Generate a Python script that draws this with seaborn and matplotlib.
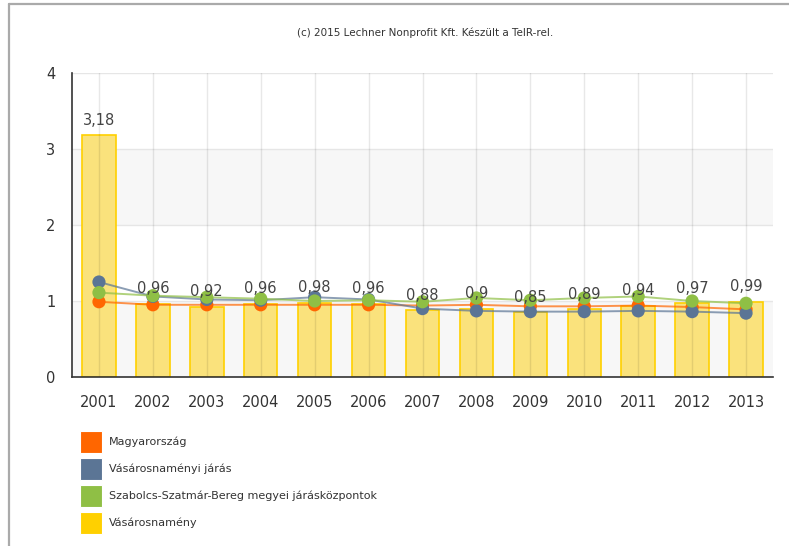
import numpy as np
import pandas as pd
import matplotlib
matplotlib.use("Agg")
import matplotlib.pyplot as plt
from matplotlib.patches import Rectangle
from matplotlib.lines import Line2D
import seaborn as sns

years = ["2001", "2002", "2003", "2004", "2005", "2006", "2007",
         "2008", "2009", "2010", "2011", "2012", "2013"]
vasarosnameny = [3.18, 0.96, 0.92, 0.96, 0.98, 0.96, 0.88, 0.90, 0.85, 0.89, 0.94, 0.97, 0.99]
magyarorszag = [0.99, 0.95, 0.95, 0.95, 0.95, 0.95, 0.94, 0.95, 0.93, 0.93, 0.94, 0.92, 0.89]
jaras = [1.25, 1.06, 1.02, 1.01, 1.05, 1.02, 0.90, 0.87, 0.86, 0.86, 0.87, 0.86, 0.84]
jaraskozpontok = [1.11, 1.07, 1.05, 1.03, 1.00, 1.01, 0.99, 1.04, 1.01, 1.04, 1.06, 1.00, 0.97]
value_labels = ["3,18", "0,96", "0,92", "0,96", "0,98", "0,96", "0,88",
                "0,9", "0,85", "0,89", "0,94", "0,97", "0,99"]
series_names = ["Magyarország", "Vásárosnaményi járás",
                "Szabolcs-Szatmár-Bereg megyei járásközpontok", "Vásárosnamény"]
title = "(c) 2015 Lechner Nonprofit Kft. Készült a TeIR-rel."

sns.set_theme(style="white")
plt.rcParams["font.family"] = ["DejaVu Sans"]

W, H = 789, 546
fig = plt.figure(figsize=(W / 100, H / 100), dpi=100)
ax = fig.add_axes([72 / W, 1 - 377 / H, (773 - 72) / W, (377 - 73) / H])

c_orange = "#ff6600"
c_blue = "#5b7595"
c_green = "#8fbf45"
c_yellow = "#ffd000"

# background bands
for lo, hi in [(0, 1), (2, 3)]:
    ax.axhspan(lo, hi, color="#f7f7f7", zorder=0, lw=0)
for yv in [1, 2, 3, 4]:
    ax.axhline(yv, color="#e6e6e6", lw=1, zorder=0.5)

df = pd.DataFrame({"year": years, "v": vasarosnameny})
sns.barplot(data=df, x="year", y="v", ax=ax, color="#fae27c", width=0.62,
            edgecolor=c_yellow, linewidth=1.2, saturation=1, zorder=2)

for i in range(len(years)):
    ax.axvline(i, color="#000000", alpha=0.09, lw=1, zorder=2.5)

x = np.arange(len(years))
for vals, col in [(magyarorszag, c_orange), (jaras, c_blue), (jaraskozpontok, c_green)]:
    sns.lineplot(x=x, y=vals, ax=ax, color=col, lw=1.4, alpha=0.7, zorder=3)
    sns.scatterplot(x=x, y=vals, ax=ax, color=col, s=90, edgecolor="none", zorder=4)

for i, (v, lab) in enumerate(zip(vasarosnameny, value_labels)):
    ax.text(i, v + 0.1, lab, ha="center", va="bottom", fontsize=10.5,
            color="#444444", zorder=5)

ax.set_xlim(-0.5, len(years) - 0.5)
ax.set_ylim(0, 4)
ax.set_yticks([0, 1, 2, 3, 4])
ax.set_xlabel("")
ax.set_ylabel("")
sns.despine(ax=ax, top=True, right=True)
for s in ["left", "bottom"]:
    ax.spines[s].set_color("#333333")
    ax.spines[s].set_linewidth(1.2)
ax.tick_params(axis="both", which="both", direction="out", length=6, width=1,
               color="#333333", labelsize=10.5, labelcolor="#333333")
ax.tick_params(axis="x", pad=8, length=5)
ax.tick_params(axis="y", pad=6)
ax.grid(False)
ax.set_facecolor("white")

fig.text(425 / W, 1 - 33 / H, title, ha="center", va="center", fontsize=7.5, color="#333333")

# legend
leg_cols = [c_orange, c_blue, c_green, c_yellow]
for k, (name, col) in enumerate(zip(series_names, leg_cols)):
    cy = 442 + 27 * k
    fig.add_artist(Rectangle((80 / W, 1 - (cy + 11) / H), 22 / W, 22 / H,
                             transform=fig.transFigure, facecolor=col,
                             edgecolor="white", lw=0.8))
    fig.text(109 / W, 1 - cy / H, name, ha="left", va="center", fontsize=8, color="#333333")

# outer frame
fig.add_artist(Line2D([9 / W, 1], [1 - 4 / H, 1 - 4 / H], transform=fig.transFigure,
                      color="#aaaaaa", lw=1.6))
fig.add_artist(Line2D([9 / W, 9 / W], [0, 1 - 4 / H], transform=fig.transFigure,
                      color="#aaaaaa", lw=1.6))

fig.savefig("out.png", dpi=100, facecolor="white")
